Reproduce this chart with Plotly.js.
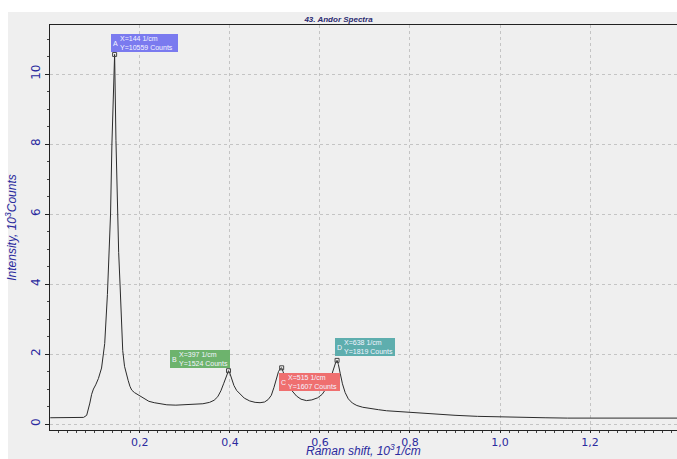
<!DOCTYPE html>
<html><head><meta charset="utf-8">
<script src="https://cdn.plot.ly/plotly-3.0.1.min.js"></script>
<style>html,body{margin:0;padding:0;background:#fff}#chart{width:677px;height:459px}</style>
</head><body><div id="chart"></div>
<script>
// Raman shift (10^3 1/cm)
const ramanShift = [0.001,0.02,0.05,0.075,0.082,0.086,0.089,0.093,0.097,0.102,0.108,0.115,0.122,0.128,0.132,0.135,0.138,0.141,0.144,0.147,0.150,0.153,0.156,0.159,0.162,0.166,0.170,0.174,0.178,0.182,0.188,0.195,0.202,0.210,0.220,0.232,0.245,0.26,0.28,0.30,0.32,0.34,0.355,0.365,0.373,0.380,0.386,0.391,0.395,0.397,0.400,0.404,0.409,0.415,0.422,0.432,0.444,0.456,0.467,0.477,0.485,0.492,0.498,0.503,0.508,0.512,0.515,0.518,0.523,0.530,0.538,0.548,0.558,0.570,0.582,0.595,0.605,0.613,0.620,0.626,0.631,0.635,0.638,0.641,0.645,0.650,0.656,0.663,0.672,0.682,0.695,0.711,0.73,0.748,0.77,0.80,0.82,0.85,0.90,0.95,1.0,1.05,1.10,1.15,1.2,1.3,1.393];
// Intensity (10^3 Counts)
const intensity = [0.18,0.18,0.18,0.19,0.25,0.42,0.6,0.85,1.0,1.12,1.3,1.6,2.3,3.7,4.9,6.0,8.0,9.6,10.559,8.1,6.0,4.9,4.0,2.9,2.1,1.65,1.4,1.25,1.08,0.97,0.9,0.84,0.78,0.71,0.65,0.61,0.58,0.55,0.54,0.55,0.56,0.58,0.62,0.68,0.78,0.95,1.15,1.35,1.48,1.524,1.45,1.28,1.1,0.96,0.86,0.74,0.66,0.62,0.61,0.63,0.7,0.82,1.05,1.3,1.5,1.58,1.607,1.5,1.32,1.15,0.95,0.8,0.71,0.67,0.69,0.75,0.85,1.0,1.18,1.4,1.62,1.76,1.819,1.7,1.45,1.15,0.9,0.72,0.6,0.53,0.48,0.44,0.41,0.38,0.36,0.35,0.33,0.3,0.25,0.22,0.2,0.19,0.18,0.17,0.17,0.17,0.17];
// Peak markers
const peakLetters = ["A","B","C","D"];
const peakX = [0.144,0.397,0.515,0.638];
const peakY = [10.559,1.524,1.607,1.819];
const peakColors = ["#7a7aef","#6db36d","#ef6f6f","#5eaeae"];

const blue = "#2a2a9e";
const traces = [
  {x: ramanShift, y: intensity, type: "scatter", mode: "lines",
   line: {color: "#2b2b2b", width: 1}, hoverinfo: "x+y"},
  {x: peakX, y: peakY, type: "scatter", mode: "markers",
   marker: {symbol: "square-open", size: 4, color: "#444", line: {width: 1}}, hoverinfo: "skip"}
];

// label placement per peak: [xanchor, yanchor, xshift, yshift]
const place = [
  ["left","bottom",-4,2],
  ["right","bottom",1,3],
  ["left","top",-3,-5],
  ["left","bottom",-2,4]
];
const textW = [58,51,52,51], letterW = 9, boxH = 18;
const annotations = [];
peakX.forEach((px,i)=>{
  const [xa,ya,xs,ys] = place[i];
  const txt = "X=" + Math.round(px*1000) + " 1/cm<br>Y=" + Math.round(peakY[i]*1000) + " Counts";
  let letterShift, textShift;
  if (xa === "left") { letterShift = xs; textShift = xs + letterW; }
  else { textShift = xs; letterShift = xs - textW[i]; }
  annotations.push({x: px, y: peakY[i], xref: "x", yref: "y", showarrow: false,
    xanchor: xa, yanchor: ya, xshift: letterShift, yshift: ys,
    text: peakLetters[i], width: letterW, height: boxH, bgcolor: peakColors[i],
    borderpad: 0, borderwidth: 0, align: "center",
    font: {family: "Liberation Sans", size: 7, color: "#f4f4ff"}});
  annotations.push({x: px, y: peakY[i], xref: "x", yref: "y", showarrow: false,
    xanchor: xa, yanchor: ya, xshift: textShift, yshift: ys,
    text: txt, width: textW[i], height: boxH, bgcolor: peakColors[i],
    borderpad: 0, borderwidth: 0, align: "left",
    font: {family: "Liberation Sans", size: 7, color: "#f4f4ff"}});
});
// x-axis title drawn low, as in the reference
annotations.push({xref: "paper", yref: "paper", x: 0.5, y: -0.0716, xanchor: "center", yanchor: "bottom",
  showarrow: false, text: "<i>Raman shift, 10<sup>3</sup>1/cm</i>", borderpad: 0,
  font: {family: "Liberation Sans", size: 12, color: blue}});

const layout = {
  width: 677, height: 459,
  margin: {l: 50, r: 0, t: 25, b: 29},
  paper_bgcolor: "#ffffff",
  plot_bgcolor: "rgba(0,0,0,0)",
  separators: ", ",
  showlegend: false,
  title: {text: "<b><i>43. Andor Spectra</i></b>", xref: "container", x: 0.5, xanchor: "center",
          yref: "container", y: 0.9586, yanchor: "middle",
          font: {family: "Liberation Sans", size: 8, color: "#2a2a70"}},
  shapes: [{type: "rect", xref: "paper", yref: "paper", x0: -0.067, x1: 1.01, y0: -0.08, y1: 1.032,
            fillcolor: "#efefef", line: {width: 0}, layer: "below"}],
  xaxis: {range: [0.0005, 1.393], tickmode: "linear", tick0: 0, dtick: 0.2, tickformat: ".1f",
          showline: true, linecolor: "#222", linewidth: 1, mirror: true,
          ticks: "outside", ticklen: 2, tickcolor: "#222",
          minor: {dtick: 0.02, tick0: 0, ticks: "outside", ticklen: 2, tickcolor: "#444", showgrid: false},
          showgrid: true, gridcolor: "#c4c4c4", griddash: "dot", gridwidth: 1, zeroline: false,
          tickfont: {family: "DejaVu Sans", size: 11, color: blue},
          automargin: false},
  yaxis: {range: [-0.17, 11.4], tickmode: "linear", tick0: 0, dtick: 2, tickangle: -90,
          showline: true, linecolor: "#222", linewidth: 1,
          ticks: "outside", ticklen: 4, tickcolor: "#222",
          minor: {dtick: 0.5, tick0: 0, ticks: "outside", ticklen: 2, tickcolor: "#444", showgrid: false},
          showgrid: true, gridcolor: "#c4c4c4", griddash: "dot", gridwidth: 1, zeroline: false,
          tickfont: {family: "DejaVu Sans", size: 12, color: blue},
          title: {text: "<i>Intensity, 10<sup>3</sup>Counts</i>", font: {family: "Liberation Sans", size: 12, color: blue}},
          automargin: false},
  annotations: annotations
};
Plotly.newPlot("chart", traces, layout, {displayModeBar: false, staticPlot: true});
</script></body></html>
